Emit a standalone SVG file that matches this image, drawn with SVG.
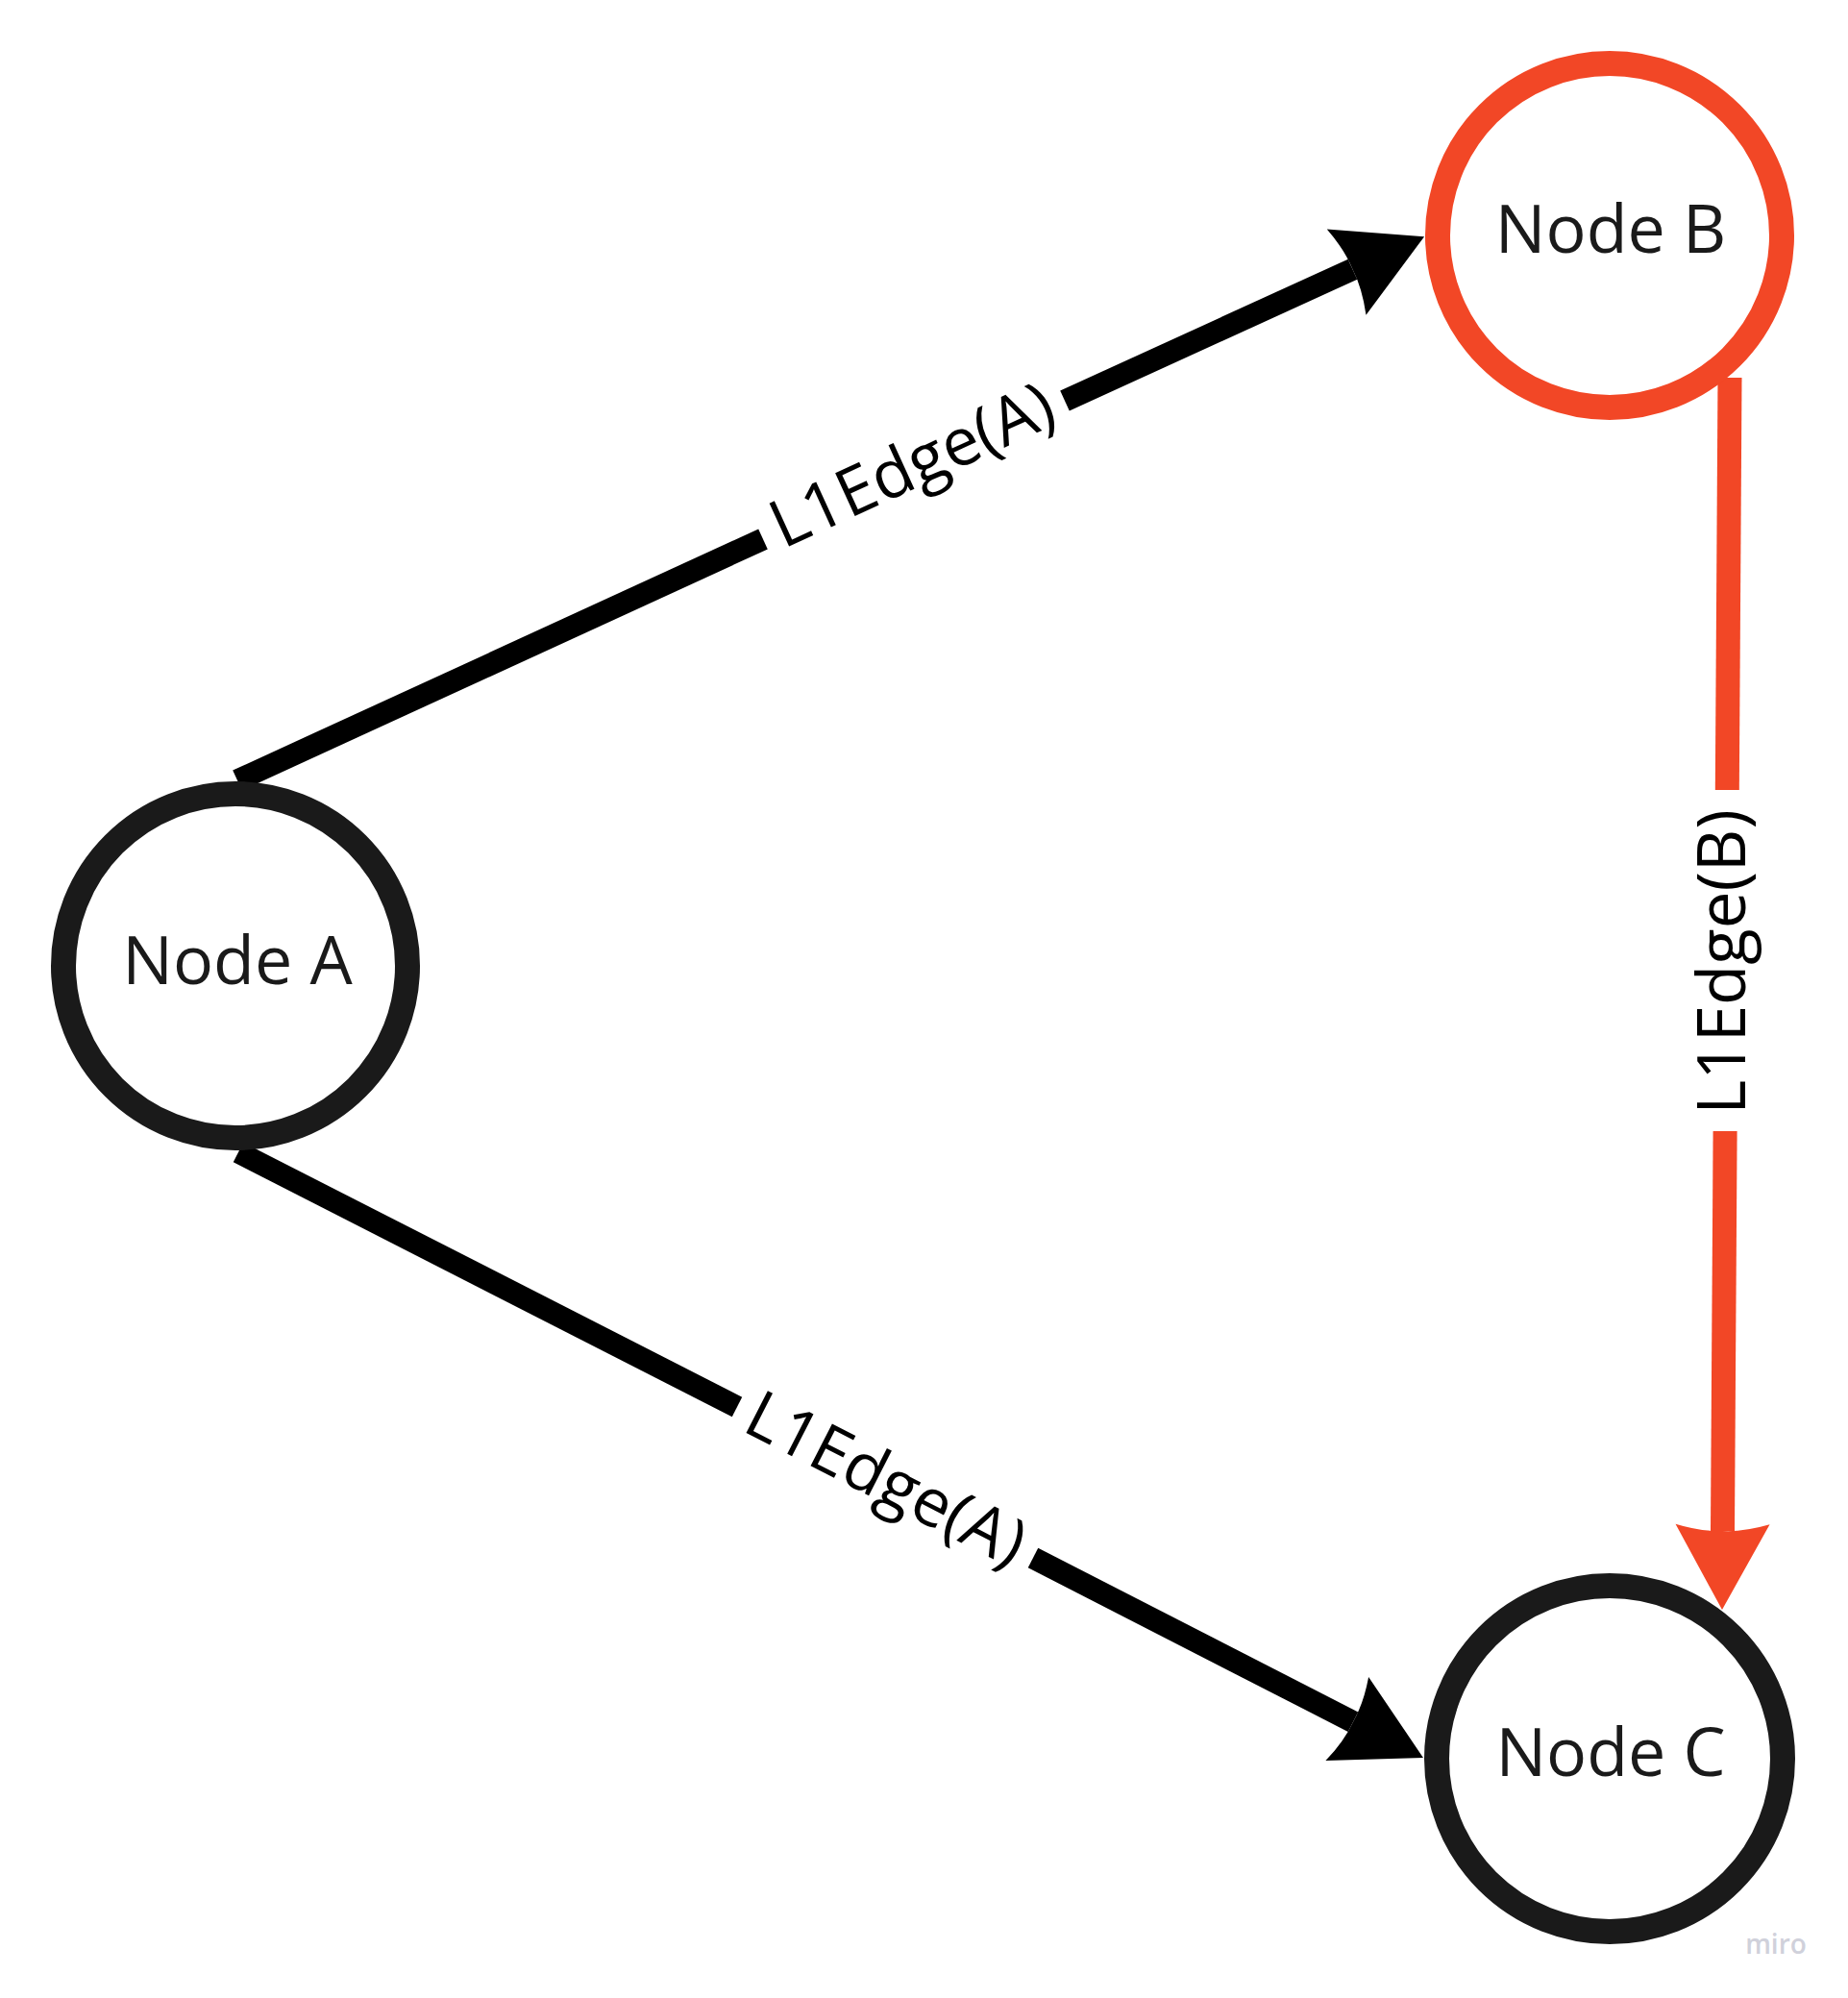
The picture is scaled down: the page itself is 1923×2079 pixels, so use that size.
<svg xmlns="http://www.w3.org/2000/svg" width="1923" height="2079" viewBox="0 0 1923 2079">
  <style>
    .node { fill: #ffffff; stroke-width: 26; }
    .nlabel { font-family: "Open Sans", "Liberation Sans", sans-serif; font-size: 70px; fill: #1a1a1a; text-anchor: middle; }
    .elabel { font-family: "Open Sans", "Liberation Sans", sans-serif; font-size: 69px; fill: #000000; text-anchor: middle; }
    .edge-black { stroke: #000000; stroke-width: 23; fill: none; stroke-linecap: butt; }
    .edge-red { stroke: #f24726; stroke-width: 25; fill: none; stroke-linecap: butt; }
  </style>
  <defs>
    <marker id="arrow-black" markerUnits="userSpaceOnUse" viewBox="-10 -52 96 104" markerWidth="96" markerHeight="104" refX="0" refY="0" orient="auto" overflow="visible">
      <path d="M82,0 L-7,-49 Q1,-22 0,0 Q1,22 -7,49 Z" fill="#000000"/>
    </marker>
    <marker id="arrow-red" markerUnits="userSpaceOnUse" viewBox="-10 -52 96 104" markerWidth="96" markerHeight="104" refX="0" refY="0" orient="auto" overflow="visible">
      <path d="M82,0 L-7,-49 Q1,-22 0,0 Q1,22 -7,49 Z" fill="#f24726"/>
    </marker>
  </defs>
  <rect x="0" y="0" width="1923" height="2079" fill="#ffffff"/>

  <g id="connectors">
    <g id="edge-a-b">
      <line class="edge-black" x1="247" y1="812" x2="794" y2="561"/>
      <line class="edge-black" x1="1108" y1="417" x2="1407.5" y2="280.2" marker-end="url(#arrow-black)"/>
      <text class="elabel" transform="translate(951,488) rotate(-24.6)" x="0" y="19">L1Edge(A)</text>
    </g>
    <g id="edge-a-c">
      <line class="edge-black" x1="248" y1="1199" x2="767" y2="1464"/>
      <line class="edge-black" x1="1075" y1="1621" x2="1408" y2="1791.7" marker-end="url(#arrow-black)"/>
      <text class="elabel" transform="translate(920,1543) rotate(27.06)" x="0" y="19">L1Edge(A)</text>
    </g>
    <g id="edge-b-c">
      <line class="edge-red" x1="1800" y1="393" x2="1797.3" y2="822"/>
      <line class="edge-red" x1="1795.1" y1="1177" x2="1792.5" y2="1593" marker-end="url(#arrow-red)"/>
      <text class="elabel" transform="translate(1797,1001) rotate(-90)" x="0" y="19">L1Edge(B)</text>
    </g>
  </g>

  <g id="node-a">
    <circle class="node" cx="245" cy="1005" r="179" stroke="#1a1a1a"/>
    <text class="nlabel" x="247" y="1024">Node A</text>
  </g>
  <g id="node-b">
    <circle class="node" cx="1675" cy="245" r="179" stroke="#f24726"/>
    <text class="nlabel" x="1676" y="263">Node B</text>
  </g>
  <g id="node-c">
    <circle class="node" cx="1675" cy="1830" r="180" stroke="#1a1a1a"/>
    <text class="nlabel" x="1676" y="1848">Node C</text>
  </g>

  <text x="1848" y="2033" font-family="'Open Sans', 'Liberation Sans', sans-serif" font-size="28" font-weight="600" fill="#d0d1db" text-anchor="middle">miro</text>
</svg>
